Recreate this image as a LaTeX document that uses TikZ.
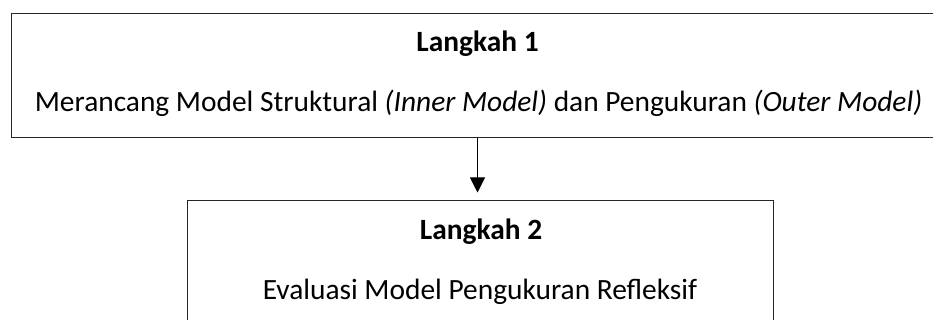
\documentclass[tikz,border=0pt]{standalone}
\usepackage{fontspec}
\setmainfont{Carlito}
\usetikzlibrary{arrows.meta}
\begin{document}
\begin{tikzpicture}[x=1pt,y=1pt,
  stepbox/.style={draw=black!85,line width=1pt,rectangle,inner sep=0pt},
  txt/.style={anchor=base,inner sep=0pt,font=\fontsize{29.4}{35}\selectfont},
  conn/.style={draw=black,line width=1pt,-{Triangle[length=15pt,width=15pt]}}]
\useasboundingbox (0,0) rectangle (933,320);
\node[stepbox,minimum width=933pt,minimum height=124pt] (b1) at (477.5,244) {};
\node[stepbox,minimum width=586pt,minimum height=134pt] (b2) at (480,52) {};
\node[txt,font=\fontsize{29.4}{35}\selectfont\bfseries] (t1) at (477.5,268) {Langkah 1};
\node[txt] (t2) at (478.5,208) {Merancang Model Struktural \textit{(Inner Model)} dan Pengukuran \textit{(Outer Model)}};
\node[txt,font=\fontsize{29.4}{35}\selectfont\bfseries] (t3) at (481,80) {Langkah 2};
\node[txt] (t4) at (480,20) {Evaluasi Model Pengukuran Refleksif};
\draw[conn,shorten >=8pt] (b1.south) -- (b1.south |- b2.north);
\end{tikzpicture}
\end{document}
